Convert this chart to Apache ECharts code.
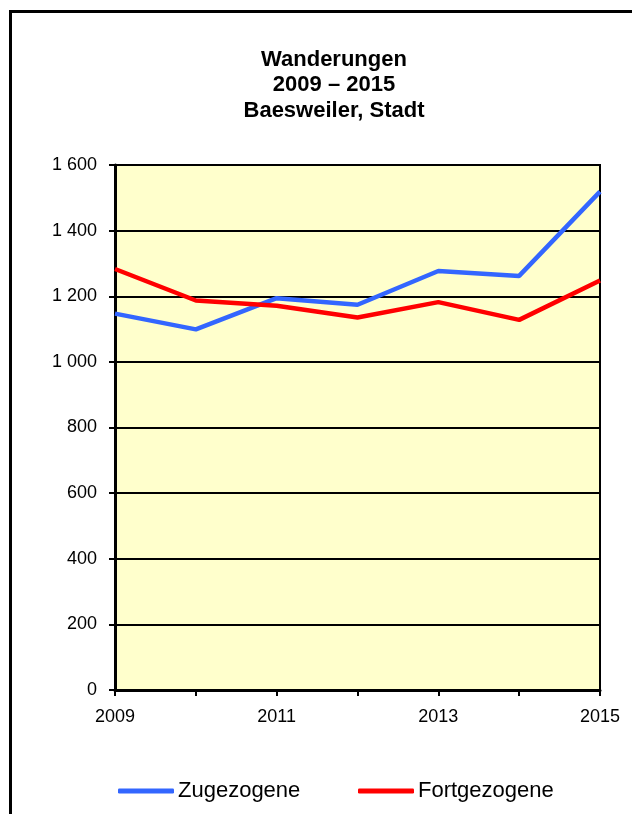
<!DOCTYPE html>
<html>
<head>
<meta charset="utf-8">
<script src="https://cdn.jsdelivr.net/npm/echarts@6/dist/echarts.min.js"></script>
<style>
  html, body { margin: 0; padding: 0; background: #fff; }
  #chart { width: 632px; height: 814px; }
</style>
</head>
<body>
<div id="chart"></div>
<script>
// Daten
const years = ['2009', '2010', '2011', '2012', '2013', '2014', '2015'];
const zugezogene = [1147, 1099, 1194, 1174, 1277, 1262, 1519];
const fortgezogene = [1283, 1187, 1171, 1135, 1182, 1128, 1248];

const chart = echarts.init(document.getElementById('chart'));
const font = 'Liberation Sans, Arial, sans-serif';

// one legend per series so each sits where the original has it
const legendItem = (name, left) => ({
  top: 775,
  left: left,
  itemWidth: 56,
  itemHeight: 5,
  icon: 'roundRect',
  textStyle: { fontSize: 22, color: '#000', fontFamily: font, padding: [0, 0, 0, -1] },
  data: [name]
});

const option = {
  animation: false,
  textStyle: { fontFamily: font },
  title: {
    text: 'Wanderungen\n2009 – 2015\nBaesweiler, Stadt',
    left: 329,
    textAlign: 'center',
    top: 42,
    textStyle: { fontSize: 22, fontWeight: 'bold', color: '#000', lineHeight: 25.5, fontFamily: font }
  },
  graphic: [{
    type: 'rect',
    shape: { x: 10.5, y: 11.5, width: 700, height: 900 },
    style: { fill: 'none', stroke: '#000', lineWidth: 3 },
    silent: true
  }],
  legend: [
    legendItem('Zugezogene', 113),
    legendItem('Fortgezogene', 353)
  ],
  grid: {
    left: 115, right: 32, top: 165, bottom: 124,
    show: true,
    backgroundColor: '#FFFFCC',
    borderColor: '#000',
    borderWidth: 2
  },
  xAxis: {
    type: 'category',
    data: years,
    boundaryGap: false,
    axisLine: { lineStyle: { color: '#000', width: 3 } },
    axisTick: { show: true, interval: 0, length: 6, lineStyle: { color: '#000', width: 2 } },
    axisLabel: { interval: 1, color: '#000', fontSize: 18, margin: 18, fontFamily: font },
    splitLine: { show: false }
  },
  yAxis: {
    type: 'value',
    min: 0, max: 1600, interval: 200,
    axisLine: { show: true, lineStyle: { color: '#000', width: 3 } },
    axisTick: { show: true, length: 6, lineStyle: { color: '#000', width: 2 } },
    axisLabel: {
      color: '#000', fontSize: 18, margin: 18, fontFamily: font,
      formatter: v => String(v).replace(/\B(?=(\d{3})+(?!\d))/g, ' ')
    },
    splitLine: { show: true, lineStyle: { color: '#000', width: 2 } }
  },
  series: [
    {
      name: 'Zugezogene',
      type: 'line',
      data: zugezogene,
      symbol: 'none',
      lineStyle: { color: '#3366FF', width: 4.5 },
      itemStyle: { color: '#3366FF' }
    },
    {
      name: 'Fortgezogene',
      type: 'line',
      data: fortgezogene,
      symbol: 'none',
      lineStyle: { color: '#FF0000', width: 4.5 },
      itemStyle: { color: '#FF0000' }
    }
  ]
};

chart.setOption(option);
</script>
</body>
</html>
